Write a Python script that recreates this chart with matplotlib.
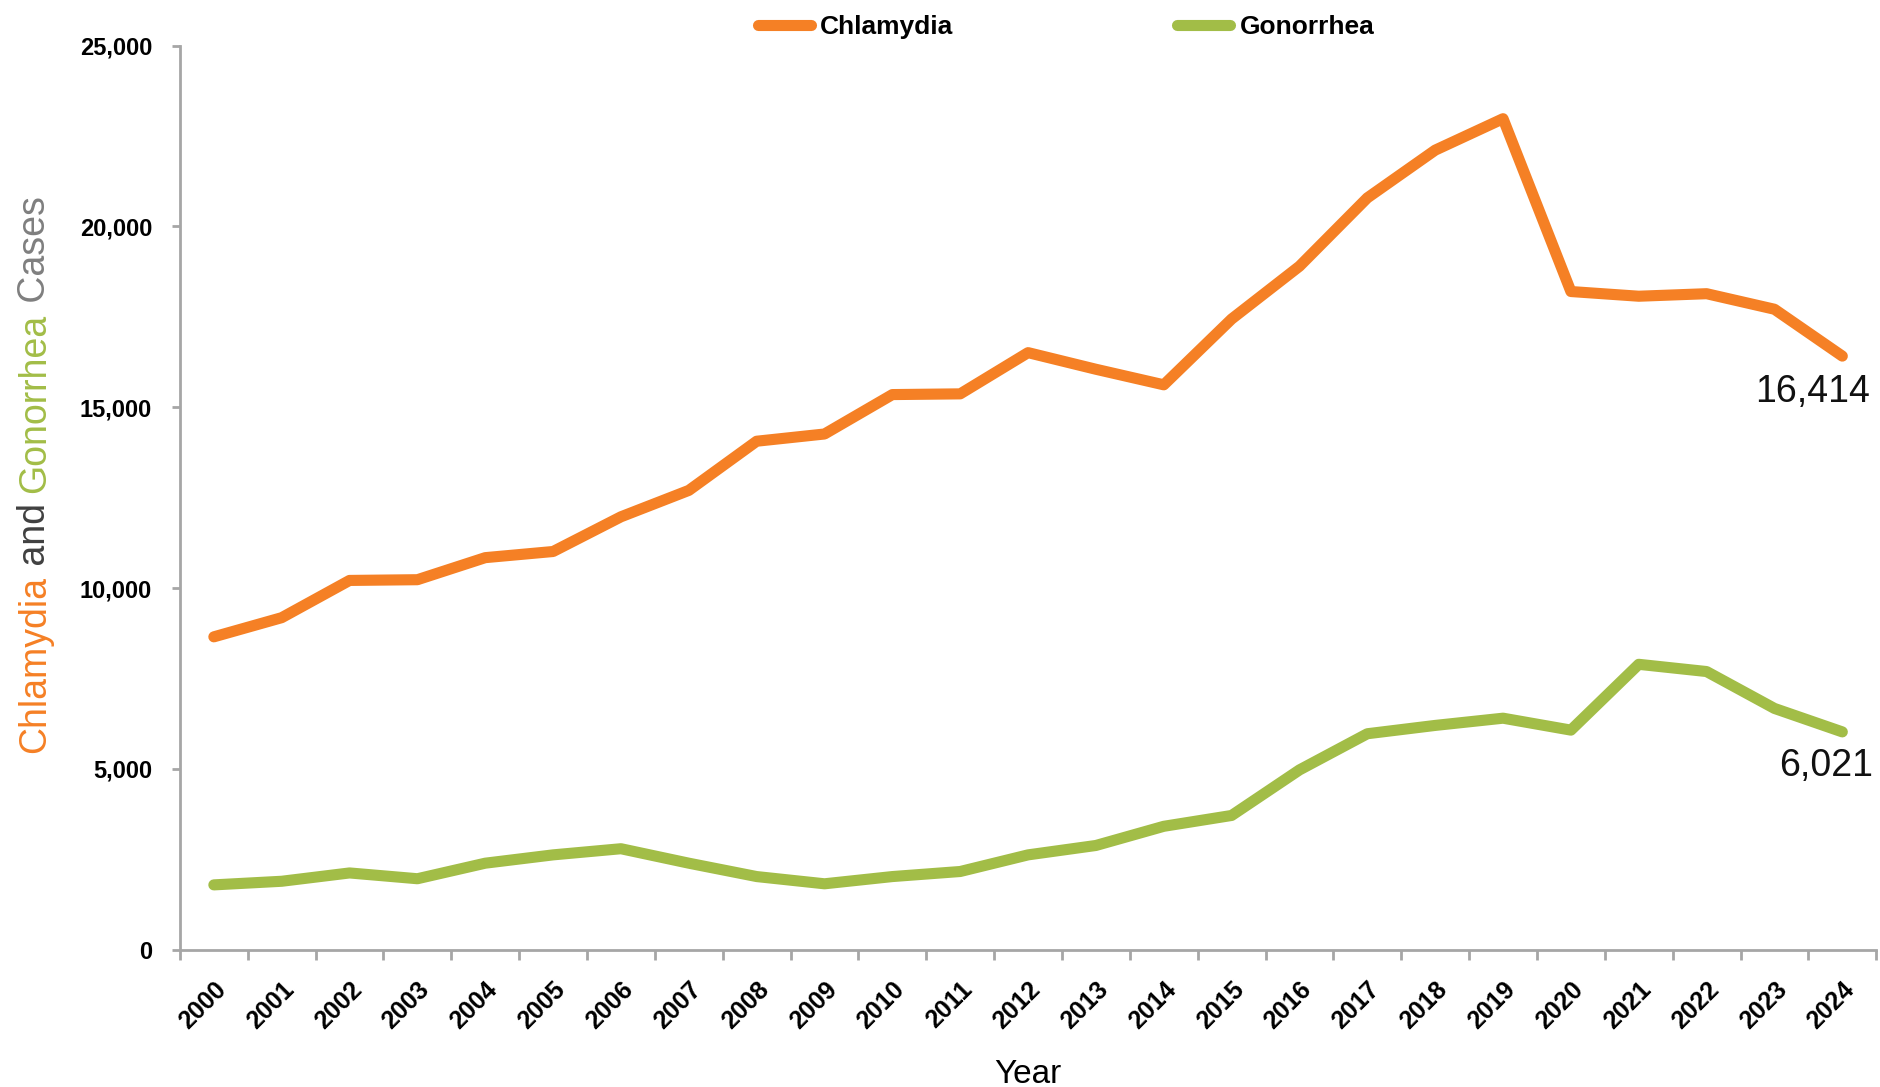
import numpy as np
import matplotlib
matplotlib.use("Agg")
import matplotlib.pyplot as plt

years = list(range(2000, 2025))
chlamydia = [8650, 9180, 10210, 10230, 10840, 11010, 11970, 12700, 14060, 14260,
             15350, 15370, 16510, 16050, 15620, 17440, 18900, 20790, 22110, 22980,
             18200, 18070, 18140, 17710, 16414]
gonorrhea = [1790, 1890, 2120, 1960, 2390, 2620, 2790, 2390, 2020, 1820,
             2020, 2160, 2620, 2880, 3410, 3710, 4970, 5970, 6200, 6400,
             6070, 7890, 7690, 6670, 6021]

orange = "#F58025"
green = "#A2BD47"
axis_gray = "#A6A6A6"
sans = ["Liberation Sans", "DejaVu Sans"]

fig = plt.figure(figsize=(18.8, 10.87), dpi=100)
ax = fig.add_axes([0.0957, 0.1264, 0.9023, 0.8316])

x = np.arange(len(years))
ax.plot(x, chlamydia, color=orange, lw=8, solid_capstyle="round", solid_joinstyle="round", label="Chlamydia")
ax.plot(x, gonorrhea, color=green, lw=8, solid_capstyle="round", solid_joinstyle="round", label="Gonorrhea")

ax.set_xlim(-0.5, len(years) - 0.5)
ax.set_ylim(0, 25000)

for s in ["top", "right"]:
    ax.spines[s].set_visible(False)
for s in ["left", "bottom"]:
    ax.spines[s].set_color(axis_gray)
    ax.spines[s].set_linewidth(2)

ax.set_yticks(range(0, 25001, 5000))
ax.set_yticklabels([f"{v:,}" for v in range(0, 25001, 5000)],
                   fontsize=17, fontweight="bold", family=sans)
ax.tick_params(axis="y", length=6, width=2, color=axis_gray, pad=14)

ax.set_xticks(x)
ax.set_xticklabels([str(y) for y in years], rotation=45, ha="right",
                   rotation_mode="anchor", fontsize=18, fontweight="bold", family=sans)
ax.tick_params(axis="x", which="major", length=0, pad=20)
ax.set_xticks(np.arange(-0.5, len(years)), minor=True)
ax.tick_params(axis="x", which="minor", length=7, width=2, color=axis_gray)

ax.set_xlabel("Year", fontsize=24, family=sans, labelpad=18)

ax.annotate(f"{chlamydia[-1]:,}", (x[-1], chlamydia[-1]), xytext=(-30, -36),
            textcoords="offset pixels", ha="center", va="center", fontsize=27,
            family=sans, color="#111111", annotation_clip=False)
ax.annotate(f"{gonorrhea[-1]:,}", (x[-1], gonorrhea[-1]), xytext=(-16, -34),
            textcoords="offset pixels", ha="center", va="center", fontsize=27,
            family=sans, color="#111111", annotation_clip=False)

leg = fig.legend(loc="upper center", bbox_to_anchor=(0.567, 1.008), ncol=2, frameon=False,
                 handlelength=2.0, handletextpad=0.35, columnspacing=8.5,
                 prop={"family": sans, "weight": "bold", "size": 19})
for h in leg.get_lines():
    h.set_linewidth(8)

# multi-colour y label, stacked bottom to top
parts = [("Chlamydia", orange), (" and ", "#404040"), ("Gonorrhea", green), (" Cases", "#7F7F7F")]
fig.canvas.draw()
renderer = fig.canvas.get_renderer()
ypos = 1 - 753 / 1087
xpos = 35 / 1880
for txt, col in parts:
    t = fig.text(xpos, ypos, txt, rotation=90, color=col, fontsize=27,
                 family=sans, ha="center", va="bottom")
    bb = t.get_window_extent(renderer)
    ypos += bb.height / fig.bbox.height

fig.savefig("out.png", dpi=100)
